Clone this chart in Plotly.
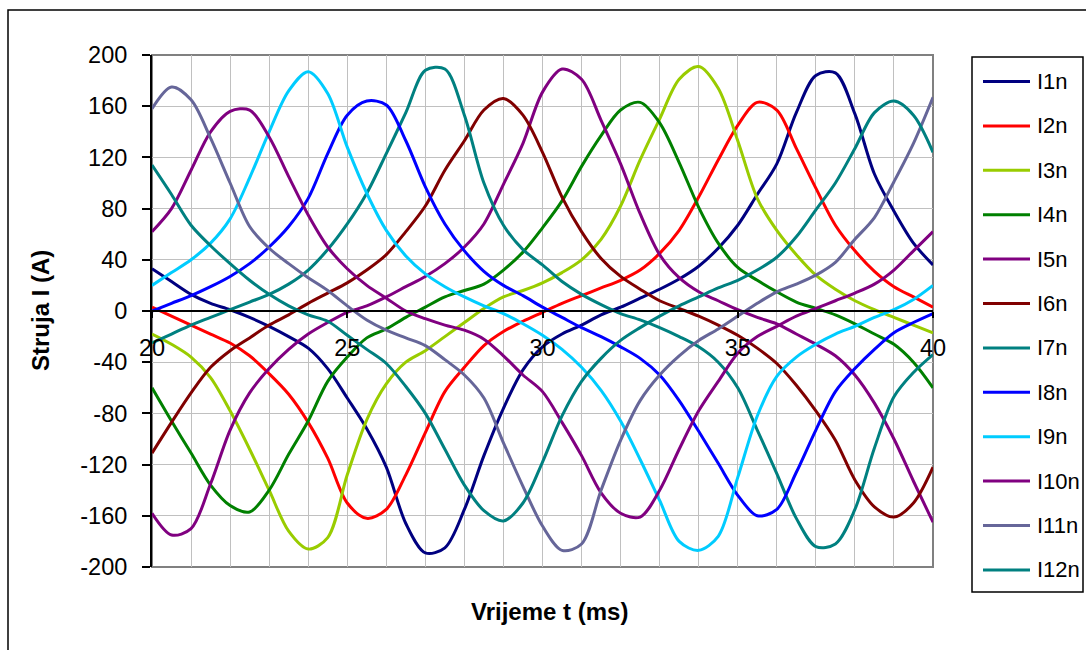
import plotly.graph_objects as go

# time axis (ms)
t_ms = [20, 20.5, 21, 21.5, 22, 22.5, 23, 23.5, 24, 24.5, 25, 25.5, 26, 26.5, 27, 27.5,
        28, 28.5, 29, 29.5, 30, 30.5, 31, 31.5, 32, 32.5, 33, 33.5, 34, 34.5, 35, 35.5,
        36, 36.5, 37, 37.5, 38, 38.5, 39, 39.5, 40]

# phase currents (A)
I1n = [33, 23, 13, 6, 1, -5, -12, -20, -29, -45, -68, -92, -122, -166, -189, -185, -155, -113, -76, -46,
       -28, -18, -11, -3, 3, 10, 17, 25, 35, 49, 67, 91, 115, 155, 184, 186, 154, 107, 78, 53, 36]
I2n = [3, -4, -11, -18, -25, -35, -49, -65, -87, -115, -150, -162, -155, -128, -95, -63, -44, -27, -16, -8,
       -1, 6, 12, 18, 24, 32, 45, 63, 89, 118, 145, 163, 157, 127, 96, 67, 47, 31, 19, 11, 3]
I3n = [-18, -26, -36, -52, -78, -108, -140, -172, -186, -177, -128, -85, -57, -40, -31, -20, -9, 2, 11, 16,
       22, 30, 40, 56, 82, 118, 150, 181, 191, 174, 133, 88, 63, 44, 28, 17, 8, 1, -5, -11, -17]
I4n = [-60, -86, -111, -136, -152, -157, -140, -112, -86, -55, -36, -21, -14, -5, 3, 11, 16, 21, 32, 46,
       65, 86, 113, 137, 157, 163, 147, 116, 81, 53, 34, 24, 15, 7, 2, -3, -10, -18, -26, -40, -60]
I5n = [-158, -175, -170, -135, -93, -64, -45, -30, -18, -9, -1, 4, 11, 19, 27, 37, 50, 68, 99, 131,
       171, 189, 181, 149, 115, 76, 44, 26, 15, 8, 1, -5, -10, -18, -26, -35, -50, -72, -100, -133, -165]
I6n = [-111, -87, -64, -44, -31, -21, -11, -3, 6, 14, 22, 32, 44, 62, 82, 110, 133, 157, 166, 153,
       124, 89, 62, 41, 27, 17, 8, 2, -4, -11, -19, -29, -41, -58, -78, -101, -132, -153, -161, -150, -122]
I7n = [-25, -18, -11, -5, 1, 7, 13, 21, 32, 48, 68, 92, 123, 155, 188, 189, 153, 100, 67, 48,
       36, 23, 13, 5, -2, -7, -13, -20, -28, -40, -60, -93, -127, -162, -184, -182, -155, -107, -67, -48, -34]
I8n = [0, 6, 12, 19, 27, 37, 50, 66, 88, 123, 153, 164, 161, 133, 97, 68, 47, 31, 20, 12,
       3, -5, -13, -20, -28, -37, -50, -70, -94, -119, -144, -160, -155, -126, -93, -63, -45, -30, -17, -9, -2]
I9n = [20, 30, 40, 53, 72, 104, 140, 172, 187, 170, 128, 92, 63, 43, 29, 19, 11, 4, -2, -10,
       -19, -30, -44, -62, -86, -116, -148, -180, -187, -176, -130, -82, -51, -36, -26, -18, -12, -5, 1, 9, 20]
I10n = [62, 80, 110, 140, 156, 157, 136, 105, 75, 50, 33, 20, 10, 0, -6, -11, -15, -22, -35, -50,
        -63, -87, -113, -142, -158, -161, -140, -108, -78, -55, -33, -20, -12, -4, 2, 8, 14, 21, 32, 47, 62]
I11n = [158, 175, 165, 135, 100, 66, 49, 37, 26, 16, 4, -7, -15, -21, -27, -38, -50, -68, -103, -137,
        -168, -187, -182, -140, -101, -70, -50, -35, -23, -14, -4, 6, 15, 21, 28, 38, 56, 73, 101, 131, 167]
I12n = [114, 91, 67, 51, 37, 24, 13, 4, -3, -8, -19, -30, -41, -59, -80, -108, -136, -156, -164, -150,
        -118, -82, -55, -37, -23, -13, -4, 4, 11, 18, 24, 32, 42, 58, 79, 100, 127, 155, 164, 153, 124]

names = ["I1n", "I2n", "I3n", "I4n", "I5n", "I6n", "I7n", "I8n", "I9n", "I10n", "I11n", "I12n"]
series = [I1n, I2n, I3n, I4n, I5n, I6n, I7n, I8n, I9n, I10n, I11n, I12n]
colors = ["#000080", "#FF0000", "#99CC00", "#008000", "#800080", "#800000",
          "#008080", "#0000FF", "#00CCFF", "#800080", "#666699", "#008080"]

y_ticks = [-200, -160, -120, -80, -40, 0, 40, 80, 120, 160, 200]
x_ticks = [20, 25, 30, 35, 40]

W, H = 1086, 650
L, R, T, B = 152, 153, 55, 83
PW, PH = W - L - R, H - T - B


def px_x(px):
    return (px - L) / PW


def px_y(py):
    return (H - B - py) / PH


FONT = "Liberation Sans, Arial, sans-serif"
LINE_W = 3

fig = go.Figure()
for nm, col, ys in zip(names, colors, series):
    fig.add_trace(go.Scatter(
        x=t_ms, y=ys, name=nm, mode="lines",
        line=dict(color=col, width=LINE_W, shape="spline", smoothing=0.9),
        hoverinfo="skip", showlegend=False))

# legend drawn as a boxed key on the right
shapes = [
    dict(type="rect", xref="paper", yref="paper", x0=0, x1=1, y0=0, y1=1,
         line=dict(color="#808080", width=2), layer="between"),
    dict(type="rect", xref="paper", yref="paper",
         x0=px_x(8), x1=px_x(1100), y0=px_y(10), y1=px_y(670),
         line=dict(color="black", width=1.5), layer="below"),
    dict(type="rect", xref="paper", yref="paper",
         x0=px_x(972), x1=px_x(1083), y0=px_y(57), y1=px_y(592),
         line=dict(color="black", width=1.5), fillcolor="white", layer="below"),
]
annotations = [
    dict(text="<b>Struja I (A)</b>", xref="paper", yref="paper",
         x=px_x(40), y=px_y(311), textangle=-90, showarrow=False,
         xanchor="center", yanchor="middle",
         font=dict(family=FONT, size=24, color="black")),
    dict(text="<b>Vrijeme t (ms)</b>", xref="paper", yref="paper",
         x=px_x(549), y=px_y(611), showarrow=False,
         xanchor="center", yanchor="middle",
         font=dict(family=FONT, size=24, color="black")),
]
LEG_Y0, LEG_DY = 81.5, 44.4
for k, (nm, col) in enumerate(zip(names, colors)):
    yy = px_y(LEG_Y0 + k * LEG_DY)
    shapes.append(dict(type="line", xref="paper", yref="paper",
                       x0=px_x(983), x1=px_x(1030), y0=yy, y1=yy,
                       line=dict(color=col, width=LINE_W)))
    annotations.append(dict(text=nm, xref="paper", yref="paper",
                            x=px_x(1035), y=yy, xanchor="left", yanchor="middle",
                            showarrow=False,
                            font=dict(family=FONT, size=22, color="black")))

fig.update_layout(
    width=W, height=H,
    margin=dict(l=L, r=R, t=T, b=B, autoexpand=False),
    paper_bgcolor="white", plot_bgcolor="white",
    font=dict(family=FONT, size=23, color="black"),
    xaxis=dict(
        range=[20, 40], tickvals=x_ticks, ticktext=[str(v) for v in x_ticks],
        showgrid=True, gridcolor="#C0C0C0", gridwidth=1.3,
        minor=dict(dtick=1, tick0=20, showgrid=True, gridcolor="#C0C0C0", gridwidth=1.3),
        anchor="free", position=0.5,
        showline=True, linecolor="black", linewidth=1.5,
        ticks="outside", ticklen=6, tickcolor="black", tickwidth=1.5,
        zeroline=False, ticklabelstandoff=10,
        tickfont=dict(family=FONT, size=23.5, color="black")),
    yaxis=dict(
        range=[-200, 200], tickvals=y_ticks, ticktext=[str(v) for v in y_ticks],
        showgrid=True, gridcolor="#C0C0C0", gridwidth=1.3,
        showline=True, linecolor="black", linewidth=2,
        ticks="outside", ticklen=8, tickcolor="black", tickwidth=1.5,
        zeroline=False, ticklabelstandoff=10,
        tickfont=dict(family=FONT, size=23.5, color="black")),
    showlegend=False,
    shapes=shapes,
    annotations=annotations,
)

fig.write_html("out.html", config={"displayModeBar": False},
               post_script="document.body.style.margin='0px';")
